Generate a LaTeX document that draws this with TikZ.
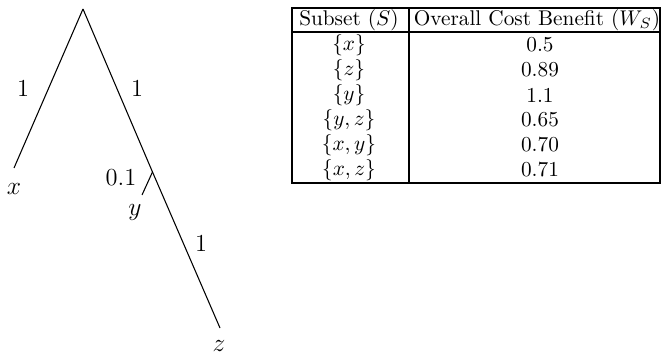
\documentclass[tikz,border=0pt]{standalone}
\begin{document}
\begin{tikzpicture}[x=0.47pt,y=-0.47pt,
  edge/.style={line width=0.5pt},
  rule/.style={line width=0.7pt},
  lbl/.style={inner sep=0pt,font=\fontsize{11.5}{14}\selectfont},
  cell/.style={inner sep=0pt,anchor=center}]
\useasboundingbox (0,0) rectangle (661,358);
% tree
\coordinate (root) at (83,9);
\coordinate (xe) at (14,168);
\coordinate (j) at (152.5,172);
\coordinate (ye) at (142,195);
\coordinate (ze) at (220,328);
\draw[edge] (root) -- (xe);
\draw[edge] (root) -- (j);
\draw[edge] (j) -- (ze);
\draw[edge] (j) -- (ye);
\node[lbl] (l1) at (23,88) {1};
\node[lbl] (l2) at (137,88) {1};
\node[lbl] (l3) at (121,178) {0.1};
\node[lbl] (l4) at (201,243) {1};
\node[lbl] (nx) at (14,189) {$x$};
\node[lbl] (ny) at (135,212) {$y$};
\node[lbl] (nz) at (219,346) {$z$};
% table
\coordinate (tl) at (292,8);
\coordinate (br) at (660,183);
\draw[rule] (tl) rectangle (br);
\coordinate (h1) at (292,32);
\coordinate (h2) at (660,32);
\draw[rule] (h1) -- (h2);
\coordinate (c1) at (409,8);
\coordinate (c2) at (409,183);
\draw[rule] (c1) -- (c2);
\node[cell] (hA) at (349,20) {Subset ($S$)};
\node[cell] (hB) at (537,20) {Overall Cost Benefit ($W_S$)};
\node[cell] (a1) at (349,45) {$\{x\}$};
\node[cell] (b1) at (540,45) {0.5};
\node[cell] (a2) at (349,70) {$\{z\}$};
\node[cell] (b2) at (540,70) {0.89};
\node[cell] (a3) at (349,95) {$\{y\}$};
\node[cell] (b3) at (540,95) {1.1};
\node[cell] (a4) at (349,120) {$\{y,z\}$};
\node[cell] (b4) at (540,120) {0.65};
\node[cell] (a5) at (349,145) {$\{x,y\}$};
\node[cell] (b5) at (540,145) {0.70};
\node[cell] (a6) at (349,170) {$\{x,z\}$};
\node[cell] (b6) at (540,170) {0.71};
\end{tikzpicture}
\end{document}
